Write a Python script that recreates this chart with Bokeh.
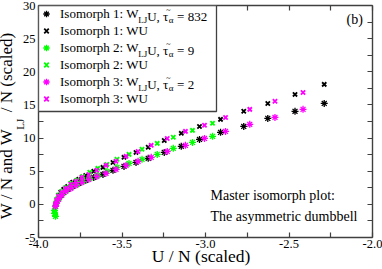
import math
from bokeh.plotting import figure
from bokeh.models import (FixedTicker, LinearAxis, Range1d, Legend, LegendItem,
                          Label, NumeralTickFormatter, BoxAnnotation, Title)
from bokeh.embed import file_html
from bokeh.resources import INLINE

# ---------------- data ----------------
iso1_U = [-2.289, -2.464, -2.627, -2.771, -2.910, -3.036, -3.145, -3.247, -3.343, -3.416,
          -3.488, -3.554, -3.614, -3.669, -3.717, -3.759, -3.795, -3.825, -3.849, -3.867, -3.880]
iso1_WU = [18.10, 16.59, 15.23, 14.03, 12.82, 11.76, 10.71, 9.65, 8.60, 7.84,
           7.09, 6.33, 5.58, 4.98, 4.37, 3.77, 3.32, 2.71, 2.26, 1.81, 1.36]
iso1_WLJU = [15.23, 14.03, 12.97, 11.76, 10.86, 9.80, 8.75, 7.84, 6.94, 6.33,
             5.73, 5.13, 4.52, 4.07, 3.62, 3.17, 2.71, 2.26, 1.81, 1.36, 0.90]

iso2_U = [-2.958, -3.078, -3.193, -3.289, -3.380, -3.458, -3.530, -3.590, -3.645, -3.693,
          -3.735, -3.771, -3.807, -3.837, -3.861, -3.880, -3.892, -3.898, -3.904, -3.904, -3.898]
iso2_WU = [12.22, 11.16, 10.11, 9.20, 8.30, 7.54, 6.79, 6.03, 5.43, 4.83,
           4.22, 3.62, 3.17, 2.56, 1.96, 1.36, 0.75, 0.15, -0.45, -1.06, -1.51]
iso2_WLJU = [10.26, 9.35, 8.45, 7.54, 6.79, 6.18, 5.58, 4.98, 4.37, 3.92,
             3.47, 3.02, 2.56, 2.11, 1.51, 0.90, 0.30, -0.30, -0.90, -1.36, -1.81]

iso3_U = [-2.416, -2.584, -2.735, -2.880, -3.006, -3.120, -3.229, -3.325, -3.404, -3.476,
          -3.536, -3.596, -3.651, -3.699, -3.741, -3.777, -3.807, -3.837, -3.861, -3.880,
          -3.892, -3.898]
iso3_WU = [16.89, 15.54, 14.33, 13.12, 11.92, 11.01, 9.95, 8.90, 7.99, 7.24,
           6.49, 5.88, 5.13, 4.52, 4.07, 3.47, 3.02, 2.41, 1.81, 1.21, 0.60, 0.00]
iso3_WLJU = [14.33, 13.12, 12.07, 11.01, 9.95, 8.90, 7.99, 7.09, 6.49, 5.88,
             5.28, 4.68, 4.22, 3.77, 3.32, 2.87, 2.41, 1.96, 1.36, 0.75, 0.15, -0.30]

tau_values = ["832", "9", "2"]
iso_names = ["Isomorph 1", "Isomorph 2", "Isomorph 3"]
iso_colors = ["#000000", "#00ff00", "#ff00ff"]

x_ticks = [-4.0, -3.5, -3.0, -2.5, -2.0]
x_minor = [-3.75, -3.25, -2.75, -2.25]
y_ticks = [-5, 0, 5, 10, 15, 20, 25, 30]
y_minor = [-2.5, 2.5, 7.5, 12.5, 17.5, 22.5, 27.5]

X0, X1 = -4.0, -2.0
Y0, Y1 = -5.0, 30.0

NB = "\u00a0"
x_title = "U / N (scaled)" + NB * 2
y_title = "W / N and W" + NB * 4 + "/ N (scaled)" + NB * 2
y_sub = "LJ" + NB * 2

# ---------------- layout ----------------
W, H = 382, 269
FL, FR, FT, FB = 38, 372, 5, 237   # frame edges in page pixels
FONT = "Liberation Serif"
AX = "#404040"

p = figure(width=W, height=H, output_backend="svg", toolbar_location=None,
           x_range=Range1d(X0, X1), y_range=Range1d(Y0, Y1),
           min_border_left=FL, min_border_right=W - FR,
           min_border_top=FT, min_border_bottom=H - FB,
           x_axis_type=None, y_axis_type=None)
p.grid.visible = False
p.outline_line_color = None
p.background_fill_color = "white"
p.border_fill_color = "white"


def dx(px):
    return X0 + (px - FL) / (FR - FL) * (X1 - X0)


def dy(py):
    return Y1 - (py - FT) / (FB - FT) * (Y1 - Y0)


def style_axis(ax):
    ax.axis_line_color = AX
    ax.axis_line_width = 1.4
    ax.major_tick_line_color = AX
    ax.minor_tick_line_color = AX
    ax.major_tick_line_width = 1.2
    ax.minor_tick_line_width = 1.2
    ax.major_tick_in = 5
    ax.major_tick_out = 0
    ax.minor_tick_in = 5
    ax.minor_tick_out = 0
    ax.major_label_text_font = FONT
    ax.major_label_text_font_size = "12.5px"
    ax.major_label_text_color = "black"
    ax.axis_label_text_font = FONT
    ax.axis_label_text_font_style = "normal"
    ax.axis_label_text_color = "black"


xb = LinearAxis(ticker=FixedTicker(ticks=x_ticks, minor_ticks=x_minor),
                formatter=NumeralTickFormatter(format="0.0"))
style_axis(xb)
xb.major_label_standoff = 2
xb.axis_label = x_title
xb.axis_label_text_font_size = "17.5px"
xb.axis_label_standoff = -5
p.add_layout(xb, "below")

yl = LinearAxis(ticker=FixedTicker(ticks=y_ticks, minor_ticks=y_minor),
                formatter=NumeralTickFormatter(format="0"))
style_axis(yl)
yl.major_label_standoff = 3
yl.axis_label = y_sub
yl.axis_label_text_font_size = "11px"
yl.axis_label_standoff = -6
p.add_layout(yl, "left")

ytitle = Title(text=y_title, align="center", text_font=FONT, text_font_size="17px",
               text_font_style="normal", text_color="black", standoff=-11)
p.add_layout(ytitle, "left")

xt = LinearAxis(ticker=FixedTicker(ticks=[], minor_ticks=x_ticks + x_minor))
style_axis(xt)
p.add_layout(xt, "above")

yr = LinearAxis(ticker=FixedTicker(ticks=[], minor_ticks=y_ticks + y_minor))
style_axis(yr)
p.add_layout(yr, "right")

# legend box (white, covers ticks)
LEG_R, LEG_B = 216, 111
p.add_layout(BoxAnnotation(left=dx(FL), right=dx(LEG_R), top=dy(FT), bottom=dy(LEG_B),
                           fill_color="white", fill_alpha=1.0, line_color=AX,
                           line_width=1.3, line_alpha=1.0))

# ---------------- data glyphs ----------------
series = [(iso1_U, iso1_WLJU, iso1_WU), (iso2_U, iso2_WLJU, iso2_WU), (iso3_U, iso3_WLJU, iso3_WU)]
items = []
for (u, wlj, wu), name, col in zip(series, iso_names, iso_colors):
    r1 = p.scatter(u, wlj, marker="asterisk", size=7, line_color=col, line_width=1.3)
    r2 = p.scatter(u, wu, marker="x", size=6, line_color=col, line_width=1.8)
    items.append(LegendItem(label=name + ": W", renderers=[r1]))
    items.append(LegendItem(label=name + ": WU", renderers=[r2]))

legend = Legend(items=items, location="top_left", margin=0, padding=2, spacing=0,
                glyph_width=16, glyph_height=17, label_height=17, label_width=152,
                label_standoff=6, border_line_color=None,
                background_fill_alpha=0.0, label_text_font=FONT,
                label_text_font_size="13px", label_text_color="black")
p.add_layout(legend)


def add_label(**kw):
    lab = Label(text_font=FONT, text_color="black", level="overlay", **kw)
    p.add_layout(lab)
    return lab


# legend rich-text pieces (subscripts)
FS = 13.0
x_text = FL + 2 + 16 + 6
for i, tau in enumerate(tau_values):
    yc = FT + 2 + 8.5 + 17 * (2 * i)
    x_lj = x_text + 6.055 * FS - 3
    x_u = x_lj + 9.0
    x_alpha = x_u + 1.66 * FS
    x_eq = x_alpha + 5.0 + 0.25 * FS
    pieces = [
        ("LJ", x_lj, yc + 4, "9px"),
        ("U, \u03c4", x_u, yc, "13px"),
        ("~", x_alpha - 2.5, yc - 6, "8px"),
        ("\u03b1", x_alpha, yc + 4, "9px"),
        ("= " + tau, x_eq, yc, "13px"),
    ]
    for t, px, py, fs in pieces:
        add_label(x=dx(px), y=dy(py), text=t, text_font_size=fs,
                  text_baseline="middle", text_align="left")

# annotations
add_label(x=dx(346), y=dy(19), text="(b)", text_font_size="14px",
          text_baseline="middle", text_align="left")
add_label(x=dx(210), y=dy(195), text="Master isomorph plot:", text_font_size="14px",
          text_baseline="middle", text_align="left")
add_label(x=dx(210), y=dy(216), text="The asymmetric dumbbell", text_font_size="14px",
          text_baseline="middle", text_align="left")

open("out.html", "w").write(file_html(p, INLINE))
